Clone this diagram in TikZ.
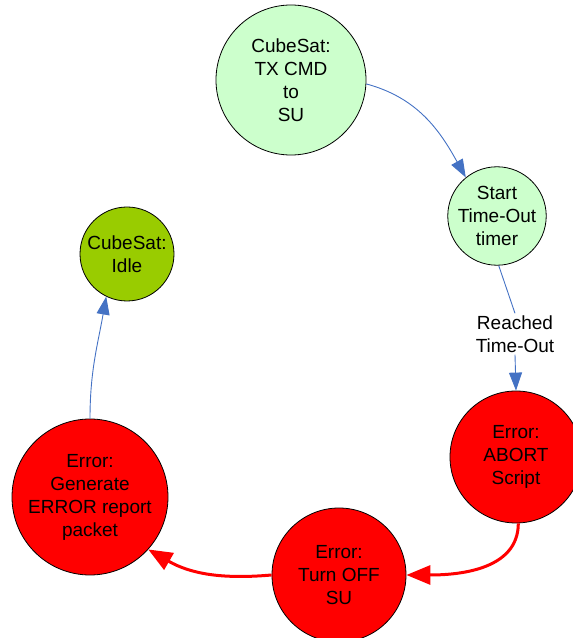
\documentclass[tikz,border=0pt]{standalone}
\usepackage{fontspec}
\setmainfont{Liberation Sans}
\usetikzlibrary{arrows.meta}
\definecolor{lgreen}{HTML}{CCFFCC}
\definecolor{ygreen}{HTML}{99CC00}
\definecolor{lineblue}{HTML}{4472C4}
\begin{document}
\begin{tikzpicture}[x=1pt,y=1pt,
  state/.style={circle,draw=black,line width=0.8pt,align=center,font=\fontsize{19}{23}\selectfont,inner sep=0pt},
  lbltext/.style={align=center,font=\fontsize{19}{23}\selectfont,fill=white,inner sep=2pt},
  bluethin/.style={draw=lineblue,line width=0.9pt},
  blueline/.style={bluethin,-{Triangle[length=18pt,width=13pt]}},
  redline/.style={draw=red,line width=3pt,-{Triangle[length=24pt,width=19pt]}}]
\useasboundingbox (0,0) rectangle (573,638);
\node[state,fill=lgreen,minimum size=150pt] (tx) at (291,558) {CubeSat:\\TX CMD\\to\\SU};
\node[state,fill=lgreen,minimum size=94pt] (st) at (497,422) {Start\\Time-Out\\timer};
\node[state,fill=ygreen,minimum size=94pt] (idle) at (127,384) {CubeSat:\\Idle};
\node[state,fill=red,minimum size=132pt] (ab) at (516,181) {Error:\\ABORT\\Script};
\node[state,fill=red,minimum size=134pt] (off) at (339,63) {Error:\\Turn OFF\\SU};
\node[state,fill=red,minimum size=156pt] (gen) at (90,141) {Error:\\Generate\\ERROR report\\packet};
\node[lbltext] (lbl) at (515,304) {Reached\\Time-Out};
\draw[blueline] (tx.-3) to[out=-15,in=119] (st.129);
\draw[bluethin] (st.-88) -- (lbl.north);
\draw[blueline] (lbl.south) -- (ab.90);
\draw[redline] (ab.-88) to[out=-90,in=0] (off.0);
\draw[redline] (off.180) to[out=185,in=-30] (gen.-42);
\draw[blueline] (gen.90) to[out=90,in=-100] (idle.244);
\end{tikzpicture}
\end{document}
